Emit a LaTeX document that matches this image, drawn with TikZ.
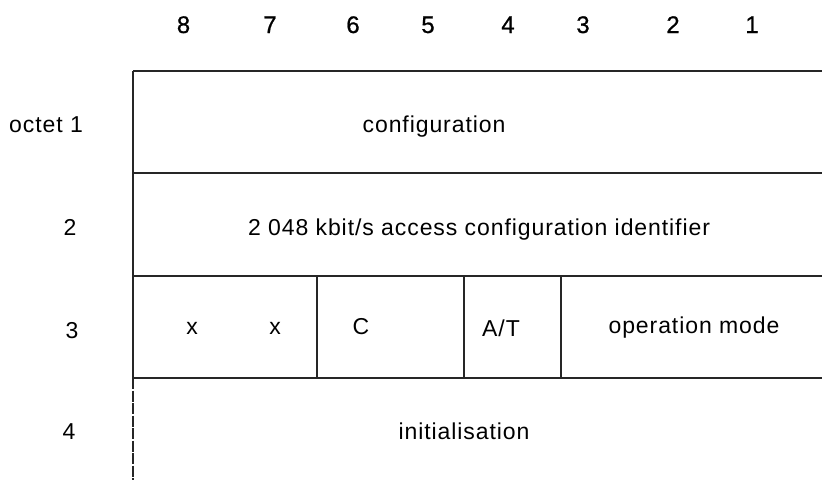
\documentclass[tikz,border=0pt]{standalone}
\usepackage{fontspec}
\setmainfont{Liberation Sans}[LetterSpace=4]
\newfontfamily\hdrfont{Liberation Sans}[FakeBold=0.8]
\begin{document}
\begin{tikzpicture}[x=1pt,y=-1pt,
  lbl/.style={inner sep=0pt,anchor=base,font=\fontsize{23}{25}\selectfont},
  hdr/.style={inner sep=0pt,anchor=base,font=\hdrfont\fontsize{24}{26}\selectfont},
  rule/.style={line width=1.3pt,draw=black!85}]
\useasboundingbox (0,0) rectangle (822,480);
% header bit numbers
\node[hdr] (b8) at (183.5,33) {8};
\node[hdr] (b7) at (270,33) {7};
\node[hdr] (b6) at (353,33) {6};
\node[hdr] (b5) at (428,33) {5};
\node[hdr] (b4) at (508,33) {4};
\node[hdr] (b3) at (583,33) {3};
\node[hdr] (b2) at (673,33) {2};
\node[hdr] (b1) at (752,33) {1};
% row labels
\node[lbl] (r1) at (46,132) {octet 1};
\node[lbl] (r2) at (70,235) {2};
\node[lbl] (r3) at (72,338) {3};
\node[lbl] (r4) at (69,439) {4};
% table lines
\draw[rule] (133,71) -- (822,71);
\draw[rule] (133,173) -- (822,173);
\draw[rule] (133,276) -- (822,276);
\draw[rule] (133,378) -- (822,378);
\draw[rule] (133,71) -- (133,378);
\draw[rule,dash pattern=on 11pt off 1.5pt] (133,378) -- (133,480);
\draw[rule] (317,276) -- (317,378);
\draw[rule] (464,276) -- (464,378);
\draw[rule] (561,276) -- (561,378);
% contents
\node[lbl] (cfg) at (434,132) {configuration};
\node[lbl] (acc) at (479,235) {2 048 kbit/s access configuration identifier};
\node[lbl] (x8) at (192,334) {x};
\node[lbl] (x7) at (275,334) {x};
\node[lbl] (c) at (361,334) {C};
\node[lbl] (at) at (501,336) {A/T};
\node[lbl] (op) at (694,333) {operation mode};
\node[lbl] (ini) at (464,439) {initialisation};
\end{tikzpicture}
\end{document}
